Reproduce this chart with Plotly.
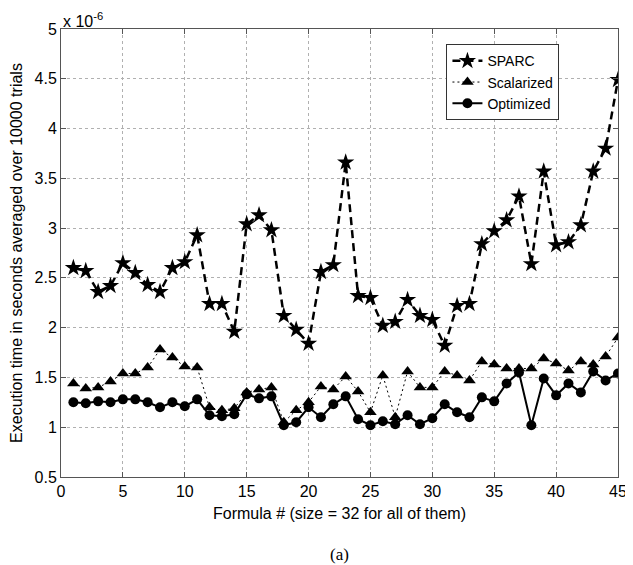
import plotly.graph_objects as go

formula = list(range(1, 46))
sparc = [2.60, 2.57, 2.36, 2.42, 2.65, 2.55, 2.43, 2.36, 2.60, 2.66,
         2.93, 2.24, 2.24, 1.96, 3.04, 3.13, 2.98, 2.12, 1.98, 1.84,
         2.56, 2.63, 3.66, 2.32, 2.30, 2.02, 2.06, 2.28, 2.12, 2.08,
         1.82, 2.22, 2.24, 2.84, 2.97, 3.08, 3.32, 2.64, 3.57, 2.83,
         2.86, 3.03, 3.57, 3.80, 4.49]
scalarized = [1.44, 1.39, 1.40, 1.46, 1.54, 1.54, 1.60, 1.78, 1.70, 1.61,
              1.60, 1.20, 1.17, 1.19, 1.35, 1.38, 1.40, 1.05, 1.17, 1.25,
              1.41, 1.38, 1.51, 1.36, 1.15, 1.52, 1.10, 1.56, 1.40, 1.40,
              1.56, 1.52, 1.47, 1.66, 1.63, 1.59, 1.59, 1.59, 1.69, 1.64,
              1.57, 1.66, 1.63, 1.71, 1.90]
optimized = [1.25, 1.24, 1.26, 1.25, 1.28, 1.28, 1.25, 1.20, 1.25, 1.21,
             1.28, 1.12, 1.11, 1.13, 1.33, 1.29, 1.31, 1.02, 1.05, 1.20,
             1.10, 1.23, 1.31, 1.08, 1.02, 1.06, 1.03, 1.12, 1.03, 1.09,
             1.23, 1.15, 1.10, 1.30, 1.26, 1.44, 1.55, 1.02, 1.49, 1.32,
             1.44, 1.35, 1.56, 1.47, 1.54]

x_ticks = [0, 5, 10, 15, 20, 25, 30, 35, 40, 45]
y_ticks = [0.5, 1, 1.5, 2, 2.5, 3, 3.5, 4, 4.5, 5]
y_tick_labels = ["0.5", "1", "1.5", "2", "2.5", "3", "3.5", "4", "4.5", "5"]

fig = go.Figure()
fig.add_trace(go.Scatter(x=formula, y=sparc, name="SPARC", mode="lines+markers",
                         line=dict(color="black", width=2.5, dash="8px,5px"),
                         marker=dict(symbol="star", size=13, color="black")))
fig.add_trace(go.Scatter(x=formula, y=scalarized, name="Scalarized", mode="lines+markers",
                         line=dict(color="black", width=1, dash="2px,3px"),
                         marker=dict(symbol="triangle-up", size=11, color="black")))
fig.add_trace(go.Scatter(x=formula, y=optimized, name="Optimized", mode="lines+markers",
                         line=dict(color="black", width=2),
                         marker=dict(symbol="circle", size=10, color="black")))

font = dict(family="Liberation Sans, Arial, sans-serif", size=16, color="black")
fig.update_layout(
    width=625, height=557,
    margin=dict(l=53, r=15, t=21, b=88),
    plot_bgcolor="white", paper_bgcolor="white",
    font=font,
    showlegend=True,
    legend=dict(x=0.692, y=0.966, xanchor="left", yanchor="top",
                bgcolor="white", bordercolor="#333", borderwidth=1,
                font=dict(size=14), tracegroupgap=0, itemwidth=30),
    xaxis=dict(range=[0, 45], tickvals=x_ticks, showgrid=True, automargin=False,
               ticklabeloverflow="allow",
               gridcolor="#b0b0b0", griddash="dot", gridwidth=1,
               showline=True, linecolor="#555", linewidth=1, mirror="ticks",
               ticks="inside", ticklen=5, tickcolor="#555", zeroline=False,
               title=dict(text="Formula # (size = 32 for all of them)", standoff=8,
                          font=dict(size=16))),
    yaxis=dict(range=[0.5, 5], tickvals=y_ticks, ticktext=y_tick_labels, showgrid=True,
               automargin=False, ticklabeloverflow="allow",
               gridcolor="#b0b0b0", griddash="dot", gridwidth=1,
               showline=True, linecolor="#555", linewidth=1, mirror="ticks",
               ticks="inside", ticklen=5, tickcolor="#555", zeroline=False,
               title=dict(text="Execution time in seconds averaged over 10000 trials",
                          standoff=16, font=dict(size=16))),
)
fig.add_annotation(text="x 10<sup>-6</sup>", xref="paper", yref="paper",
                   x=0, y=1.0, xanchor="left", yanchor="bottom", showarrow=False,
                   font=dict(size=16), yshift=-3)
fig.add_annotation(text="(a)", xref="paper", yref="paper", x=0.5, y=-0.172,
                   xanchor="center", yanchor="middle", showarrow=False,
                   font=dict(family="Liberation Serif, Times New Roman, serif", size=17))

fig.write_html("out.html")
